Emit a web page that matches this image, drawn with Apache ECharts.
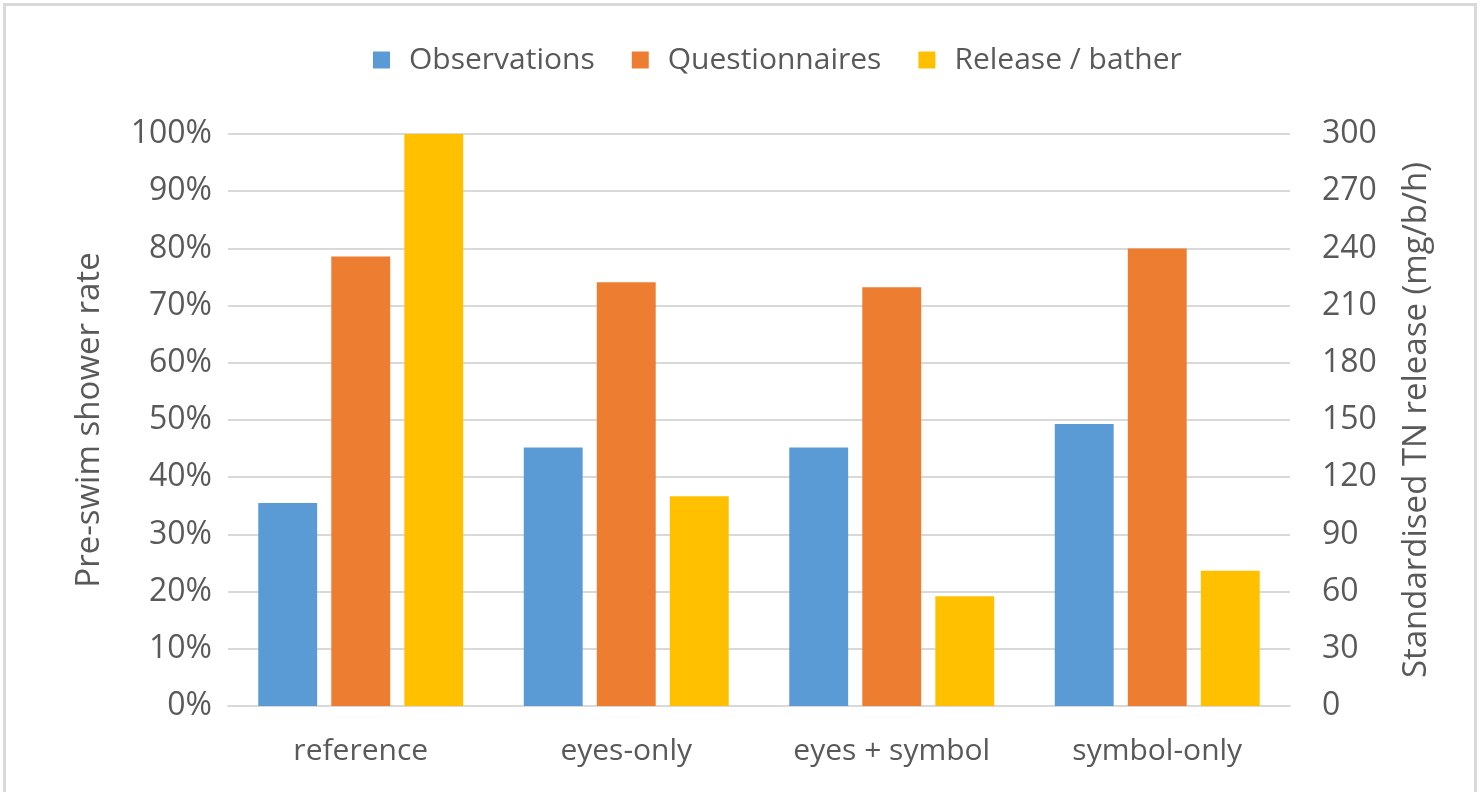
<!DOCTYPE html>
<html>
<head>
<meta charset="utf-8">
<script src="https://cdn.jsdelivr.net/npm/echarts@6/dist/echarts.min.js"></script>
<style>
  html, body { margin: 0; padding: 0; background: #fff; }
  #frame { position: absolute; left: 3px; top: 3px; width: 1474px; height: 800px;
           border: 3px solid #d9d9d9; border-bottom: none; box-sizing: border-box; }
  #chart { position: absolute; left: 0; top: 0; width: 1483px; height: 792px; }
</style>
</head>
<body>
<div id="frame"></div>
<div id="chart"></div>
<script>
// Intervention conditions on the x axis
const categories = ['reference', 'eyes-only', 'eyes + symbol', 'symbol-only'];
// Pre-swim shower rate (%), left axis
const observations = [35.5, 45.2, 45.2, 49.3];
const questionnaires = [78.6, 74.1, 73.2, 80.0];
// Standardised TN release per bather (mg/b/h), right axis
const releasePerBather = [300, 110, 57.5, 71];

const leftTicks = { min: 0, max: 100, interval: 10 };
const rightTicks = { min: 0, max: 300, interval: 30 };

const textColor = '#595959';
const gridColor = '#d9d9d9';
const fontFamily = '"Open Sans", "Noto Sans", sans-serif';

const chart = echarts.init(document.getElementById('chart'));

const barCommon = {
  type: 'bar',
  barGap: '24%',
  barCategoryGap: '22.8%'
};

chart.setOption({
  animation: false,
  textStyle: { fontFamily: fontFamily },
  legend: {
    top: 40,
    left: 368,
    itemWidth: 17,
    itemHeight: 17,
    itemGap: 37,
    icon: 'rect',
    textStyle: { color: textColor, fontSize: 30, fontFamily: fontFamily, padding: [0, 0, 0, 14] },
    data: ['Observations', 'Questionnaires', 'Release / bather']
  },
  grid: { left: 228, right: 193, top: 134, bottom: 86 },
  xAxis: {
    type: 'category',
    data: categories,
    axisLine: { show: true, lineStyle: { color: gridColor, width: 2 } },
    axisTick: { show: false },
    axisLabel: { color: textColor, fontSize: 30, margin: 30, fontFamily: fontFamily }
  },
  yAxis: [
    {
      type: 'value',
      min: leftTicks.min, max: leftTicks.max, interval: leftTicks.interval,
      name: 'Pre-swim shower rate',
      nameLocation: 'middle',
      nameGap: 122,
      nameRotate: 90,
      nameTextStyle: { color: textColor, fontSize: 33, fontFamily: fontFamily },
      axisLine: { show: false },
      axisTick: { show: false },
      axisLabel: { color: textColor, fontSize: 32, margin: 16, formatter: v => v + '%', fontFamily: fontFamily },
      splitLine: { lineStyle: { color: gridColor, width: 2 } }
    },
    {
      type: 'value',
      min: rightTicks.min, max: rightTicks.max, interval: rightTicks.interval,
      name: 'Standardised TN release (mg/b/h)',
      nameLocation: 'middle',
      nameGap: 110,
      nameRotate: 90,
      nameTextStyle: { color: textColor, fontSize: 33, fontFamily: fontFamily },
      axisLine: { show: false },
      axisTick: { show: false },
      axisLabel: { color: textColor, fontSize: 32, margin: 32, fontFamily: fontFamily },
      splitLine: { show: false }
    }
  ],
  series: [
    Object.assign({}, barCommon, {
      name: 'Observations', yAxisIndex: 0, data: observations,
      itemStyle: { color: '#5b9bd5' }
    }),
    Object.assign({}, barCommon, {
      name: 'Questionnaires', yAxisIndex: 0, data: questionnaires,
      itemStyle: { color: '#ed7d31' }
    }),
    Object.assign({}, barCommon, {
      name: 'Release / bather', yAxisIndex: 1, data: releasePerBather,
      itemStyle: { color: '#ffc000' }
    })
  ]
});
</script>
</body>
</html>
